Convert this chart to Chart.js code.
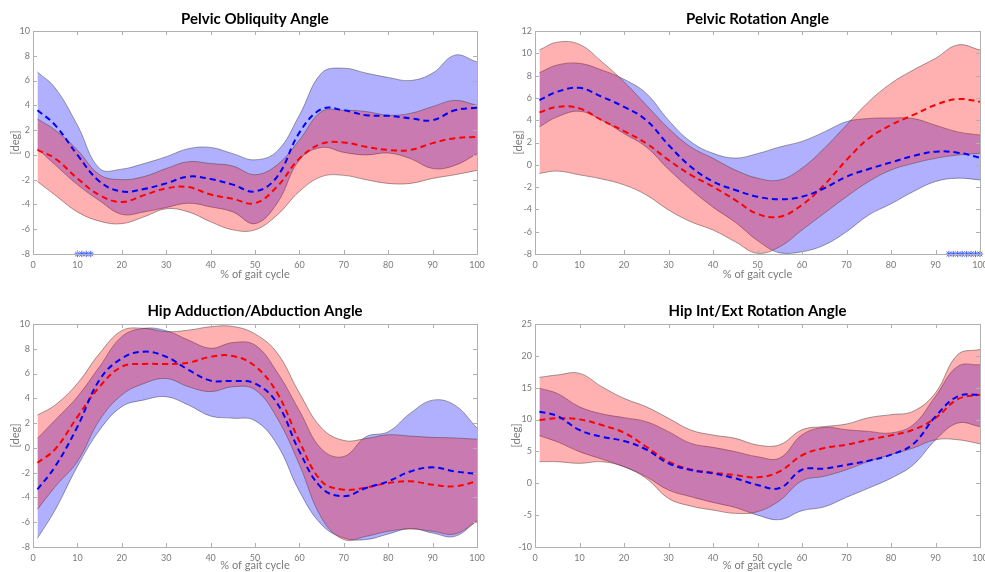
<!DOCTYPE html>
<html>
<head>
<meta charset="utf-8">
<script src="https://cdn.jsdelivr.net/npm/chart.js@4.4.1/dist/chart.umd.min.js"></script>
<style>
  body { margin: 0; background: #fff; }
  #wrap { position: relative; width: 985px; height: 572px; overflow: hidden; }
  canvas { position: absolute; }
</style>
</head>
<body>
<div id="wrap">
  <canvas id="c1" width="492" height="290" style="left:0;top:0"></canvas>
  <canvas id="c2" width="493" height="290" style="left:492px;top:0"></canvas>
  <canvas id="c3" width="492" height="282" style="left:0;top:290px"></canvas>
  <canvas id="c4" width="493" height="282" style="left:492px;top:290px"></canvas>
</div>
<script>
// % of gait cycle where values were read
const gait = [1, 5, 10, 15, 20, 25, 30, 35, 40, 45, 50, 55, 60, 65, 70, 75, 80, 85, 90, 95, 100];

// Pelvic Obliquity
const obliqBlueUpper = [6.7, 5.4, 2.4, -1.1, -1.15, -0.7, -0.15, 0.5, 0.6, 0.1, -0.4, 0.3, 3.2, 6.6, 7.0, 6.6, 6.25, 6.0, 6.6, 8.05, 7.5];
const obliqBlueMean  = [3.6, 2.4, 0.0, -2.15, -2.95, -2.75, -2.3, -1.75, -1.95, -2.4, -2.95, -1.75, 1.8, 3.7, 3.6, 3.2, 3.15, 2.95, 2.8, 3.6, 3.8];
const obliqBlueLower = [0.5, -0.8, -2.4, -3.7, -4.8, -4.6, -4.25, -3.9, -4.2, -4.6, -5.55, -3.9, -0.4, 0.6, 0.2, 0.0, 0.15, -0.3, -1.1, -0.85, 0.1];
const obliqRedUpper  = [2.9, 2.0, 0.4, -1.6, -2.0, -1.75, -1.1, -0.55, -0.7, -0.9, -1.6, -0.8, 1.2, 3.5, 3.6, 3.5, 3.2, 3.35, 3.9, 4.4, 4.0];
const obliqRedMean   = [0.4, -0.3, -1.9, -3.25, -3.8, -3.25, -2.7, -2.6, -3.2, -3.55, -3.9, -2.55, -0.3, 0.9, 1.0, 0.65, 0.4, 0.4, 0.95, 1.35, 1.45];
const obliqRedLower  = [-2.15, -3.25, -4.6, -5.35, -5.55, -5.0, -4.35, -4.6, -5.4, -6.05, -6.05, -4.85, -2.95, -1.75, -1.65, -2.0, -2.3, -2.3, -1.9, -1.6, -1.25];
const obliqStars = [10, 11, 12, 13];
const obliqTicks = [-8, -6, -4, -2, 0, 2, 4, 6, 8, 10];

// Pelvic Rotation
const rotBlueUpper = [8.26, 8.95, 9.1, 8.5, 7.67, 6.4, 4.0, 2.07, 1.03, 0.6, 1.0, 1.6, 2.1, 2.95, 3.87, 4.15, 4.2, 4.15, 3.55, 2.95, 2.67];
const rotBlueMean  = [5.8, 6.55, 6.9, 6.1, 5.2, 4.0, 1.78, -0.17, -1.5, -2.26, -2.86, -3.1, -2.86, -2.1, -1.06, -0.38, 0.22, 0.79, 1.18, 1.09, 0.64];
const rotBlueLower = [3.4, 4.3, 4.8, 4.0, 2.8, 1.6, -0.4, -2.2, -3.8, -5.15, -6.8, -7.9, -7.8, -7.2, -6.0, -4.5, -3.5, -2.4, -1.5, -1.2, -1.36];
const rotRedUpper  = [10.3, 11.0, 10.8, 9.25, 7.45, 5.36, 3.27, 1.6, 0.58, -0.47, -1.2, -1.36, -0.3, 1.48, 3.57, 5.66, 7.3, 8.5, 9.55, 10.75, 10.3];
const rotRedMean   = [4.7, 5.2, 5.06, 4.0, 3.03, 1.93, 0.43, -0.91, -1.96, -3.16, -4.4, -4.65, -3.6, -1.8, 0.43, 2.37, 3.57, 4.47, 5.37, 5.9, 5.66];
const rotRedLower  = [-0.77, -0.56, -0.9, -1.27, -1.8, -2.7, -4.05, -5.1, -5.85, -6.9, -7.94, -7.35, -5.85, -4.35, -2.86, -1.5, -0.47, 0.13, 0.58, 0.88, 1.03];
const rotStars = [93, 94, 95, 96, 97, 98, 99, 100];
const rotTicks = [-8, -6, -4, -2, 0, 2, 4, 6, 8, 10, 12];

// Hip Adduction/Abduction
const addBlueUpper = [0.77, 2.25, 4.13, 6.56, 8.98, 9.65, 9.46, 8.7, 8.04, 8.5, 8.3, 6.1, 3.0, -0.1, -0.7, 0.9, 1.3, 2.8, 3.85, 3.45, 1.6];
const addBlueMean  = [-3.35, -1.5, 1.7, 5.5, 7.23, 7.77, 7.36, 6.3, 5.43, 5.4, 5.2, 3.6, -0.28, -3.24, -3.9, -3.24, -2.7, -1.9, -1.57, -1.9, -2.1];
const addBlueLower = [-7.3, -5.0, -1.5, 1.44, 3.33, 3.87, 4.13, 3.46, 2.57, 2.4, 2.2, 0.26, -3.5, -6.2, -7.27, -7.4, -6.95, -6.5, -6.87, -7.14, -5.87];
const addRedUpper  = [2.65, 3.46, 5.2, 7.63, 9.46, 9.65, 9.38, 9.5, 9.78, 9.8, 9.2, 7.66, 4.43, 1.6, 0.6, 0.75, 1.06, 0.95, 0.85, 0.8, 0.7];
const addRedMean   = [-1.2, -0.1, 2.5, 4.94, 6.56, 6.77, 6.77, 6.88, 7.36, 7.42, 6.6, 4.43, 0.53, -2.7, -3.37, -3.2, -2.83, -2.7, -2.97, -3.1, -2.7];
const addRedLower  = [-4.96, -3.13, -1.1, 2.25, 4.27, 5.2, 5.6, 4.94, 4.54, 4.94, 4.7, 2.4, -1.35, -5.66, -7.4, -7.14, -6.73, -6.55, -6.73, -6.95, -5.93];
const addTicks = [-8, -6, -4, -2, 0, 2, 4, 6, 8, 10];

// Hip Int/Ext Rotation
const ierBlueUpper = [14.9, 14.1, 12.0, 10.9, 10.3, 9.67, 8.1, 6.27, 5.64, 4.96, 4.17, 3.96, 7.6, 8.77, 8.4, 8.14, 7.9, 9.2, 13.66, 18.36, 18.6];
const ierBlueMean  = [11.24, 10.56, 8.36, 7.3, 6.63, 5.3, 3.13, 2.08, 1.56, 0.77, -0.27, -0.75, 2.13, 2.3, 2.9, 3.55, 4.5, 6.16, 10.5, 13.65, 13.9];
const ierBlueLower = [7.47, 6.5, 4.96, 3.8, 2.6, 1.03, -1.06, -2.1, -3.0, -3.8, -5.0, -5.7, -4.3, -3.7, -2.2, -0.75, 0.8, 2.9, 6.8, 9.45, 8.9];
const ierRedUpper  = [16.63, 17.0, 17.25, 15.16, 13.33, 12.0, 10.2, 8.36, 7.57, 7.05, 6.0, 6.05, 8.4, 8.9, 9.3, 10.3, 10.77, 11.3, 14.2, 20.2, 21.0];
const ierRedMean   = [9.93, 10.2, 10.03, 9.14, 7.94, 5.74, 3.4, 2.18, 1.66, 1.3, 0.93, 1.87, 4.4, 5.53, 6.05, 6.84, 7.52, 8.4, 10.24, 13.2, 13.9];
const ierRedLower  = [3.39, 3.39, 3.13, 3.39, 2.6, 0.77, -2.37, -3.57, -4.2, -4.72, -4.46, -2.7, 0.4, 1.1, 2.13, 3.44, 4.5, 5.53, 6.84, 6.84, 6.2];
const ierTicks = [-10, -5, 0, 5, 10, 15, 20, 25];

const xTicks = [0, 10, 20, 30, 40, 50, 60, 70, 80, 90, 100];

const FONT = 'Lato, "DejaVu Sans", sans-serif';
const GREY = '#7a7a7a';
const EDGE = 'rgba(70,70,70,0.65)';

const pts = arr => arr.map((v, i) => ({ x: gait[i], y: v }));

// box round the axes, ticks pointing inwards on all four sides
const axesBox = {
  id: 'axesBox',
  afterDatasetsDraw(chart) {
    const { ctx, chartArea: a, scales: { x, y } } = chart;
    ctx.save();
    ctx.strokeStyle = '#b0b0b0';
    ctx.lineWidth = 1;
    ctx.beginPath();
    x.ticks.forEach(t => {
      const px = Math.round(x.getPixelForValue(t.value)) + 0.5;
      ctx.moveTo(px, a.bottom); ctx.lineTo(px, a.bottom - 4);
      ctx.moveTo(px, a.top); ctx.lineTo(px, a.top + 4);
    });
    y.ticks.forEach(t => {
      const py = Math.round(y.getPixelForValue(t.value)) + 0.5;
      ctx.moveTo(a.left, py); ctx.lineTo(a.left + 4, py);
      ctx.moveTo(a.right, py); ctx.lineTo(a.right - 4, py);
    });
    ctx.stroke();
    ctx.strokeRect(Math.round(a.left) + 0.5, Math.round(a.top) + 0.5,
                   Math.round(a.right - a.left), Math.round(a.bottom - a.top));
    ctx.restore();
  }
};

function band(upper, lower, fillColor) {
  const common = { borderColor: EDGE, borderWidth: 0.8, pointRadius: 0, tension: 0.4 };
  return [
    Object.assign({ data: pts(upper), fill: '+1', backgroundColor: fillColor }, common),
    Object.assign({ data: pts(lower), fill: false }, common)
  ];
}

function meanLine(values, color) {
  return { data: pts(values), borderColor: color, borderWidth: 2, borderDash: [6, 4],
           pointRadius: 0, tension: 0.4, fill: false, order: 0 };
}

function makePanel(id, p) {
  const blue = band(p.blueUpper, p.blueLower, 'rgba(0,0,255,0.31)');
  const red = band(p.redUpper, p.redLower, 'rgba(255,0,0,0.31)');
  blue.forEach(d => d.order = 3);
  red.forEach(d => d.order = 2);
  const datasets = [...blue, ...red, meanLine(p.blueMean, '#0000ff'), meanLine(p.redMean, '#ff0000')];
  if (p.stars) {
    datasets.push({
      type: 'scatter', data: p.stars.map(s => ({ x: s, y: p.ticks[0] })),
      pointStyle: 'star', pointRadius: 3.2, borderColor: 'rgba(40,70,255,0.85)',
      borderWidth: 1, showLine: false, clip: false, order: 0
    });
  }
  new Chart(document.getElementById(id), {
    type: 'line',
    data: { datasets },
    options: {
      responsive: false,
      animation: false,
      layout: { padding: { left: 0, right: p.padRight, top: 0, bottom: p.padBottom } },
      plugins: {
        legend: { display: false },
        tooltip: { enabled: false },
        title: {
          display: true, text: p.title, fullSize: false, color: '#000',
          font: { family: FONT, size: 15, weight: 'bold', lineHeight: 1.2 },
          padding: { top: p.titleTop, bottom: p.titleBottom }
        }
      },
      scales: {
        x: {
          type: 'linear', min: xTicks[0], max: xTicks[xTicks.length - 1],
          grid: { display: false, drawTicks: false }, border: { display: false },
          afterBuildTicks: s => { s.ticks = xTicks.map(v => ({ value: v })); },
          ticks: { color: GREY, font: { family: FONT, size: 9 }, padding: 6, maxRotation: 0, autoSkip: false },
          title: { display: true, text: '% of gait cycle', color: GREY, font: { family: FONT, size: 11 }, padding: 0 },
          afterFit: s => { s.height = p.xAxisHeight; s.paddingLeft = 0; s.paddingRight = 0; }
        },
        y: {
          type: 'linear', min: p.ticks[0], max: p.ticks[p.ticks.length - 1],
          grid: { display: false, drawTicks: false }, border: { display: false },
          afterBuildTicks: s => { s.ticks = p.ticks.map(v => ({ value: v })); },
          ticks: { color: GREY, font: { family: FONT, size: 9 }, padding: 3, autoSkip: false },
          title: { display: true, text: '[deg]', color: GREY, font: { family: FONT, size: 11 }, padding: { top: p.yTitlePad, bottom: 0 } },
          afterFit: s => { s.width = p.yAxisWidth; s.paddingTop = 0; s.paddingBottom = 0; }
        }
      }
    },
    plugins: [axesBox]
  });
}

makePanel('c1', {
  title: 'Pelvic Obliquity Angle', ticks: obliqTicks, stars: obliqStars,
  blueUpper: obliqBlueUpper, blueMean: obliqBlueMean, blueLower: obliqBlueLower,
  redUpper: obliqRedUpper, redMean: obliqRedMean, redLower: obliqRedLower,
  padRight: 15, padBottom: 9, xAxisHeight: 27, yAxisWidth: 33, yTitlePad: 8.4, titleTop: 10, titleBottom: 3
});
makePanel('c2', {
  title: 'Pelvic Rotation Angle', ticks: rotTicks, stars: rotStars,
  blueUpper: rotBlueUpper, blueMean: rotBlueMean, blueLower: rotBlueLower,
  redUpper: rotRedUpper, redMean: rotRedMean, redLower: rotRedLower,
  padRight: 5, padBottom: 9, xAxisHeight: 27, yAxisWidth: 43, yTitlePad: 19.4, titleTop: 10, titleBottom: 3
});
makePanel('c3', {
  title: 'Hip Adduction/Abduction Angle', ticks: addTicks,
  blueUpper: addBlueUpper, blueMean: addBlueMean, blueLower: addBlueLower,
  redUpper: addRedUpper, redMean: addRedMean, redLower: addRedLower,
  padRight: 15, padBottom: 0, xAxisHeight: 25, yAxisWidth: 33, yTitlePad: 8.4, titleTop: 12, titleBottom: 4
});
makePanel('c4', {
  title: 'Hip Int/Ext Rotation Angle', ticks: ierTicks,
  blueUpper: ierBlueUpper, blueMean: ierBlueMean, blueLower: ierBlueLower,
  redUpper: ierRedUpper, redMean: ierRedMean, redLower: ierRedLower,
  padRight: 5, padBottom: 0, xAxisHeight: 25, yAxisWidth: 43, yTitlePad: 17.4, titleTop: 12, titleBottom: 4
});
</script>
</body>
</html>
